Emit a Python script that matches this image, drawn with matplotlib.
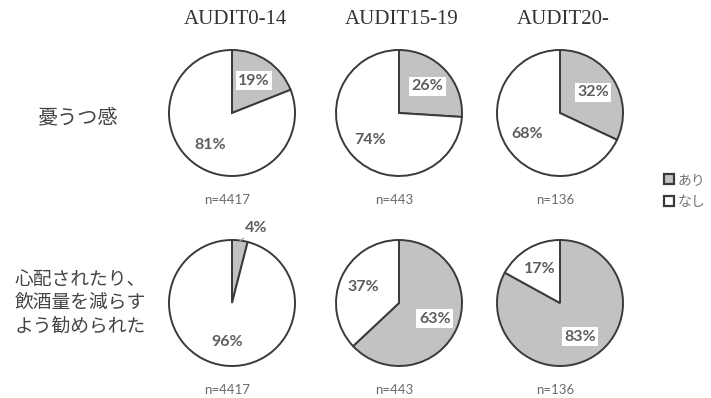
import numpy as np
import matplotlib
matplotlib.use("Agg")
import matplotlib.pyplot as plt
from matplotlib.patches import Patch

plt.rcParams['font.family'] = ['Noto Sans CJK JP', 'DejaVu Sans']

# AUDIT score groups and sample sizes
groups = ['AUDIT0-14', 'AUDIT15-19', 'AUDIT20-']
n_counts = [4417, 443, 136]
row_labels = ['憂うつ感', '心配されたり、\n飲酒量を減らす\nよう勧められた']
# share answering "あり" (%) per group
depressed_yes = [19, 26, 32]
advised_yes = [4, 63, 83]
legend_labels = ['あり', 'なし']

GRAY = '#c2c2c2'
EDGE = '#3a3a3a'
PCT_COLOR = '#5e5e5e'

W, H = 711, 398
fig = plt.figure(figsize=(W / 100, H / 100), dpi=100)

col_x = [232, 399, 560]
row_y = [113, 303]
R = 63
PAD = 1.3


def pie_axes(cx, cy, r=R):
    s = 2 * PAD * r
    return fig.add_axes([(cx - s / 2) / W, 1 - (cy + s / 2) / H, s / W, s / H])


for row, yes_vals in enumerate([depressed_yes, advised_yes]):
    for col, yes in enumerate(yes_vals):
        ax = pie_axes(col_x[col], row_y[row])
        wedges, texts, autotexts = ax.pie(
            [yes, 100 - yes], colors=[GRAY, 'white'], startangle=90,
            counterclock=False, radius=1,
            wedgeprops=dict(edgecolor=EDGE, linewidth=1.4),
            autopct='%.0f%%', pctdistance=0.62,
            textprops=dict(family=['Lato', 'DejaVu Sans'], fontsize=11.5,
                           color=PCT_COLOR, fontweight='bold'))
        ax.set_xlim(-PAD, PAD)
        ax.set_ylim(-PAD, PAD)
        ax.set_aspect('equal')

        if yes < 10:
            # small slice: label outside with a leader line
            t = autotexts[0]
            t.set_visible(False)
            w = wedges[0]
            mid = np.deg2rad((w.theta1 + w.theta2) / 2)
            lab = mid - np.deg2rad(7)
            ax.annotate(t.get_text(),
                        xy=(0.99 * np.cos(mid), 0.99 * np.sin(mid)),
                        xytext=(1.22 * np.cos(lab) + 0.08, 1.22 * np.sin(lab)),
                        ha='center', va='center',
                        family=['Lato', 'DejaVu Sans'], fontsize=11.5,
                        color=PCT_COLOR, fontweight='bold',
                        arrowprops=dict(arrowstyle='-', color='#a0a0a0',
                                        lw=0.9, shrinkA=6, shrinkB=0))
        else:
            autotexts[0].set_bbox(dict(facecolor='white', edgecolor='none',
                                       pad=1.8))

        fig.text((col_x[col] - 5) / W, 1 - (row_y[row] + 87) / H,
                 f'n={n_counts[col]}', ha='center', va='center',
                 family=['Lato', 'DejaVu Sans'], fontsize=9.5,
                 color='#6a6a6a')

# column titles
for col, g in enumerate(groups):
    fig.text((col_x[col] + 3) / W, 1 - 20 / H, g, ha='center', va='center',
             family=['Liberation Serif'], fontsize=15, color='#333333')

# row titles
fig.text(78 / W, 1 - 118 / H, row_labels[0], ha='center', va='center',
         fontsize=14.5, color='#444444')
fig.text(80 / W, 1 - 303 / H, row_labels[1], ha='center', va='center',
         fontsize=13.5, color='#444444', linespacing=1.15)

handles = [Patch(facecolor=GRAY, edgecolor=EDGE, linewidth=1.6),
           Patch(facecolor='white', edgecolor=EDGE, linewidth=1.6)]
fig.legend(handles, legend_labels, loc='upper left',
           bbox_to_anchor=(664 / W, 1 - 173 / H), frameon=False,
           handlelength=0.7, handleheight=0.7, handletextpad=0.3,
           labelspacing=0.55, fontsize=10, labelcolor='#777777',
           borderpad=0, borderaxespad=0)

fig.savefig('out.png', dpi=100)
